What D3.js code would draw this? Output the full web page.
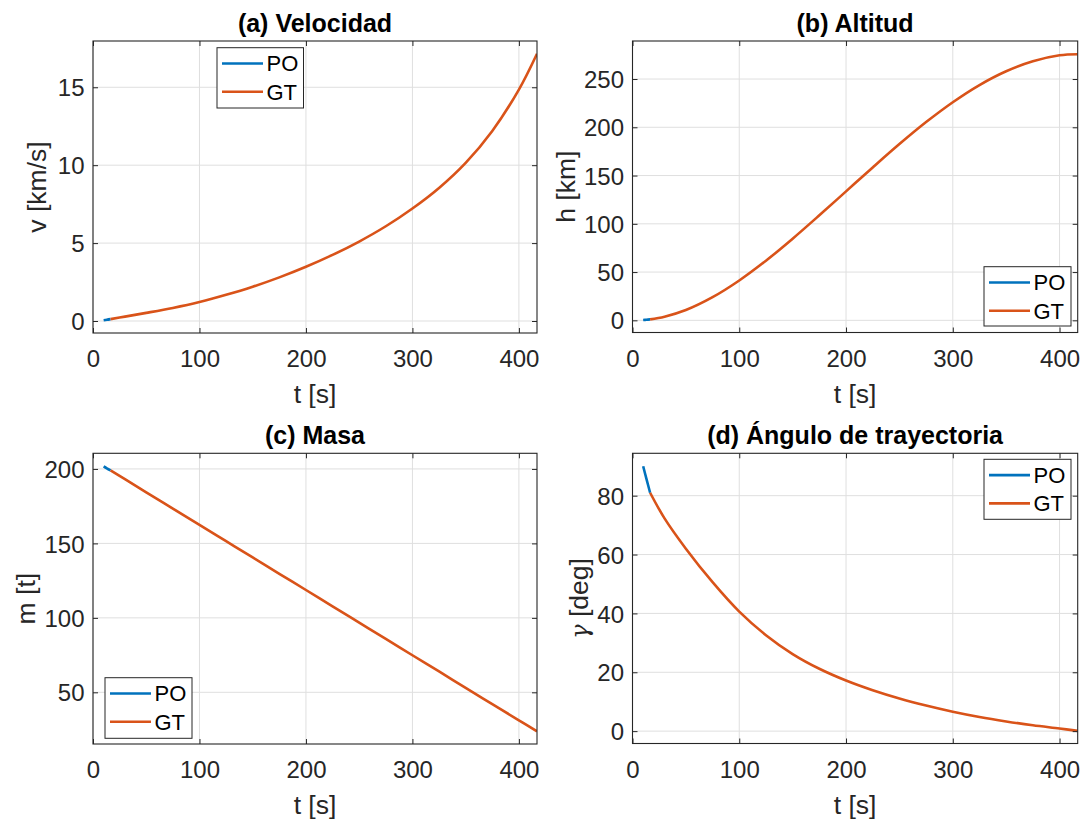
<!DOCTYPE html>
<html>
<head>
<meta charset="utf-8">
<script src="https://cdn.jsdelivr.net/npm/d3@7"></script>
<style>
  html, body { margin: 0; padding: 0; background: #fff; }
  svg { display: block; font-family: "Liberation Sans", Arial, Helvetica, sans-serif; }
</style>
</head>
<body>
<svg id="chart" width="1085" height="819"></svg>
<script>
// ---------------- data ----------------
const xTicks = [0, 100, 200, 300, 400];
const tPO = [10, 13, 16.5];
const tGT = [16.5, 30, 50, 75, 100, 125, 150, 175, 200, 225, 250, 275, 300, 325, 350, 375, 400, 417];

const vPO = [0.05, 0.08, 0.12];
const vGT = [0.12, 0.28, 0.52, 0.84, 1.22, 1.68, 2.2, 2.8, 3.48, 4.24, 5.1, 6.08, 7.22, 8.54, 10.15, 12.2, 14.85, 17.15];
const vTicks = [0, 5, 10, 15];

const hPO = [0.3, 0.6, 1.0];
const hGT = [1.0, 3.8, 10.7, 24, 41.3, 61.8, 84.6, 108.8, 133.6, 158.4, 182.6, 205.4, 226, 243.8, 258.1, 268.4, 274.6, 275.7];
const hTicks = [0, 50, 100, 150, 200, 250];

const mPO = [201.7, 200.4, 199.0];
const mGT = [199.0, 193.1, 184.3, 173.4, 162.4, 151.5, 140.6, 129.6, 118.7, 107.7, 96.8, 85.9, 74.9, 64.0, 53.0, 42.1, 31.2, 23.8];
const mTicks = [50, 100, 150, 200];

const gPO = [90, 85.8, 81.0];
const gGT = [81.0, 72.3, 62, 50.6, 40.6, 32.6, 26.2, 21.2, 17.2, 13.9, 11.1, 8.7, 6.6, 4.8, 3.3, 2.0, 0.9, 0.1];
const gTicks = [0, 20, 40, 60, 80];

const seriesNames = ["PO", "GT"];
const seriesColors = ["#0072BD", "#D95319"];

// ---------------- layout ----------------
const panels = [
  { title: "(a) Velocidad", ylabel: ["v [km/s]"], x0: 93, x1: 537, y0: 41, y1: 333,
    ydom: [-0.77, 17.97], yticks: vTicks, po: vPO, gt: vGT, ylabOff: 47,
    legend: { x: 217, y: 47.7, w: 86.5, h: 60.3 } },
  { title: "(b) Altitud", ylabel: ["h [km]"], x0: 632.5, x1: 1077.7, y0: 41, y1: 332.5,
    ydom: [-12.6, 289.4], yticks: hTicks, po: hPO, gt: hGT, ylabOff: 57.5,
    legend: { x: 984, y: 266.7, w: 87, h: 59.3 } },
  { title: "(c) Masa", ylabel: ["m [t]"], x0: 93, x1: 537, y0: 453.3, y1: 744,
    ydom: [15.3, 210.5], yticks: mTicks, po: mPO, gt: mGT, ylabOff: 58,
    legend: { x: 105, y: 677.7, w: 87, h: 60.6 } },
  { title: "(d) Ángulo de trayectoria", ylabel: ["γ", " [deg]"], x0: 632.5, x1: 1077.7, y0: 453.3, y1: 743.5,
    ydom: [-4.2, 94.4], yticks: gTicks, po: gPO, gt: gGT, ylabOff: 45,
    legend: { x: 984, y: 459.3, w: 87, h: 60 } }
];

const svg = d3.select("#chart");
const axisColor = "#262626";
const gridColor = "#dfdfdf";
const tickLen = 5;

panels.forEach(p => {
  const x = d3.scaleLinear().domain([0, 417]).range([p.x0, p.x1]);
  const y = d3.scaleLinear().domain(p.ydom).range([p.y1, p.y0]);
  const g = svg.append("g");

  // grid
  g.selectAll(".gx").data(xTicks).enter().append("line")
    .attr("x1", d => x(d)).attr("x2", d => x(d))
    .attr("y1", p.y0).attr("y2", p.y1)
    .attr("stroke", gridColor).attr("stroke-width", 1);
  g.selectAll(".gy").data(p.yticks).enter().append("line")
    .attr("x1", p.x0).attr("x2", p.x1)
    .attr("y1", d => y(d)).attr("y2", d => y(d))
    .attr("stroke", gridColor).attr("stroke-width", 1);

  // lines
  const line = d3.line().x(d => x(d[0])).y(d => y(d[1])).curve(d3.curveCatmullRom.alpha(0.5));
  const clipId = "clip" + p.title.charAt(1);
  svg.append("clipPath").attr("id", clipId).append("rect")
    .attr("x", p.x0).attr("y", p.y0).attr("width", p.x1 - p.x0).attr("height", p.y1 - p.y0);
  const lg = g.append("g").attr("clip-path", "url(#" + clipId + ")");
  lg.append("path").datum(tPO.map((t, i) => [t, p.po[i]]))
    .attr("d", line).attr("fill", "none").attr("stroke", seriesColors[0]).attr("stroke-width", 2.6);
  lg.append("path").datum(tGT.map((t, i) => [t, p.gt[i]]))
    .attr("d", line).attr("fill", "none").attr("stroke", seriesColors[1]).attr("stroke-width", 2.6)
    .attr("stroke-linejoin", "round");

  // axes via d3 axis generators (ticks inside)
  const fmt = d3.format("d");
  const axB = d3.axisBottom(x).tickValues(xTicks).tickSize(-tickLen).tickFormat(fmt).tickPadding(0);
  const axT = d3.axisTop(x).tickValues(xTicks).tickSize(-tickLen).tickFormat("");
  const axL = d3.axisLeft(y).tickValues(p.yticks).tickSize(-tickLen).tickFormat(fmt);
  const axR = d3.axisRight(y).tickValues(p.yticks).tickSize(-tickLen).tickFormat("");

  const styleAxis = sel => {
    sel.select(".domain").remove();
    sel.selectAll(".tick line").attr("stroke", axisColor).attr("stroke-width", 1);
    sel.selectAll("text").attr("fill", axisColor).attr("font-size", 24)
      .attr("font-family", "'Liberation Sans', Arial, sans-serif");
  };
  const gb = g.append("g").attr("transform", `translate(0,${p.y1})`).call(axB).call(styleAxis);
  gb.selectAll(".tick text").attr("y", 34).attr("dy", null);
  g.append("g").attr("transform", `translate(0,${p.y0})`).call(axT).call(styleAxis);
  const gl = g.append("g").attr("transform", `translate(${p.x0},0)`).call(axL).call(styleAxis);
  gl.selectAll(".tick text").attr("x", -8.5).attr("dy", "0.36em");
  g.append("g").attr("transform", `translate(${p.x1},0)`).call(axR).call(styleAxis);

  // box
  g.append("rect").attr("x", p.x0).attr("y", p.y0)
    .attr("width", p.x1 - p.x0).attr("height", p.y1 - p.y0)
    .attr("fill", "none").attr("stroke", axisColor).attr("stroke-width", 1.1);

  // title
  g.append("text").attr("x", (p.x0 + p.x1) / 2).attr("y", p.y0 - 9.2)
    .attr("text-anchor", "middle").attr("font-weight", "bold").attr("font-size", 25)
    .attr("fill", "#000").text(p.title);

  // x label
  g.append("text").attr("x", (p.x0 + p.x1) / 2).attr("y", p.y1 + 70)
    .attr("text-anchor", "middle").attr("font-size", 26.5).attr("fill", axisColor).text("t [s]");

  // y label
  const cy = (p.y0 + p.y1) / 2;
  const yl = g.append("text")
    .attr("transform", `translate(${p.x0 - p.ylabOff},${cy}) rotate(-90)`)
    .attr("text-anchor", "middle").attr("font-size", 26.5).attr("fill", axisColor);
  if (p.ylabel.length === 2) {
    yl.append("tspan").attr("font-family", "'DejaVu Serif', serif").attr("font-style", "italic")
      .attr("font-size", 24).text(p.ylabel[0]);
    yl.append("tspan").text(p.ylabel[1]);
  } else {
    yl.text(p.ylabel[0]);
  }

  // legend
  const L = p.legend;
  const lgnd = g.append("g");
  lgnd.append("rect").attr("x", L.x).attr("y", L.y).attr("width", L.w).attr("height", L.h)
    .attr("fill", "#fff").attr("stroke", axisColor).attr("stroke-width", 1);
  seriesNames.forEach((name, i) => {
    const ly = L.y + 15.8 + i * 28.3;
    lgnd.append("line").attr("x1", L.x + 5).attr("x2", L.x + 46)
      .attr("y1", ly).attr("y2", ly)
      .attr("stroke", seriesColors[i]).attr("stroke-width", 2.6);
    lgnd.append("text").attr("x", L.x + 49.5).attr("y", ly).attr("dy", "0.36em")
      .attr("font-size", 22).attr("fill", "#000").text(name);
  });
});
</script>
</body>
</html>
